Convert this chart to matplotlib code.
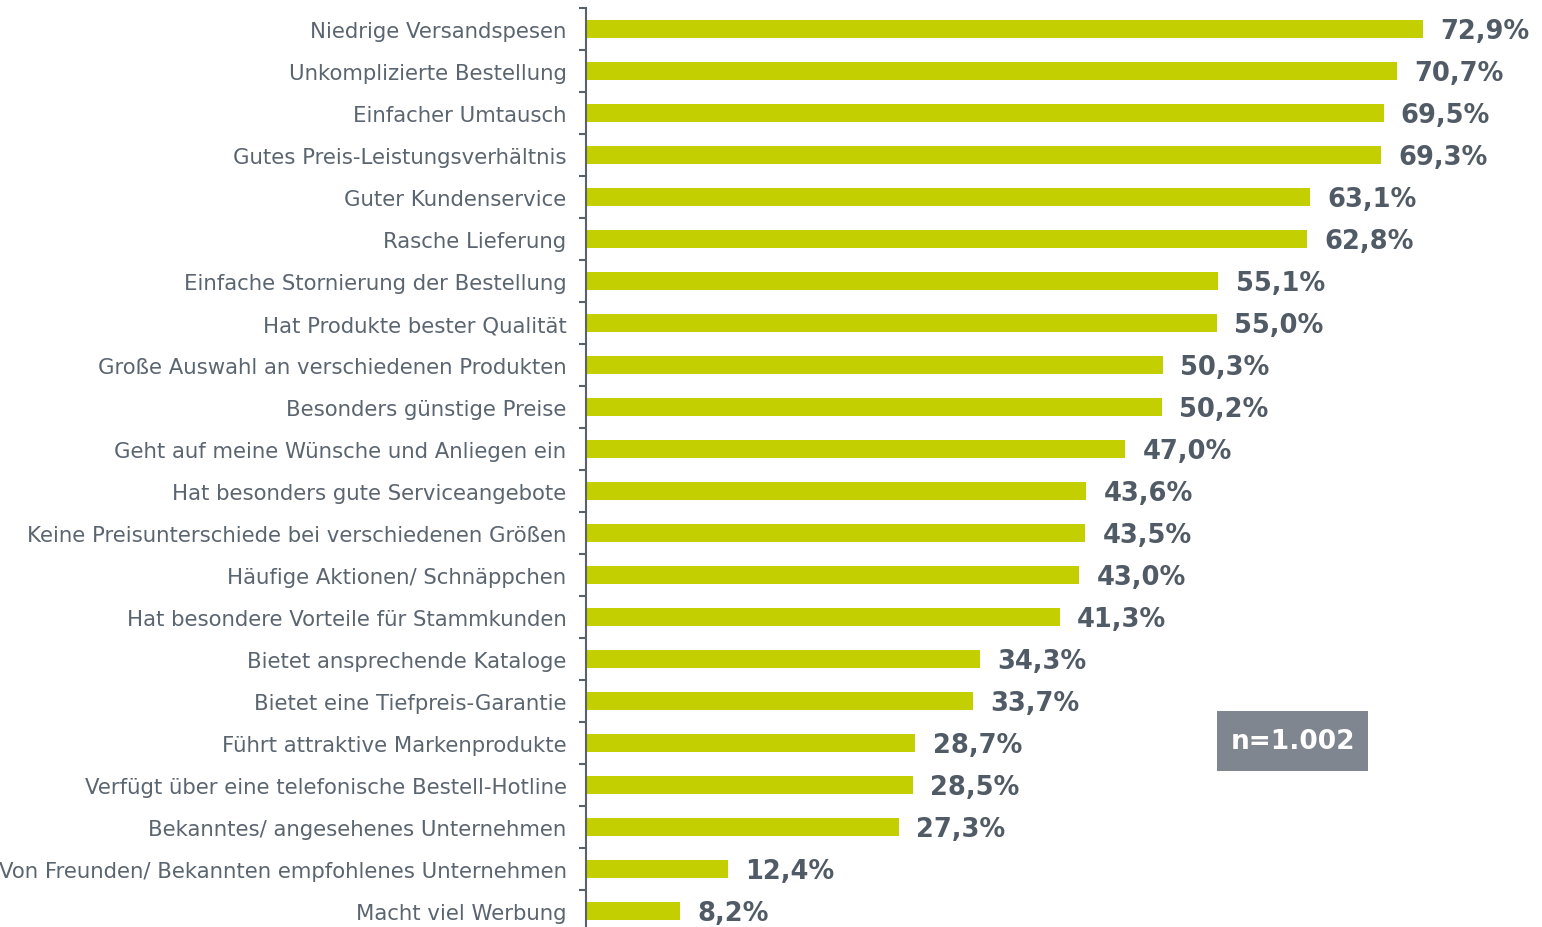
import numpy as np
import matplotlib.pyplot as plt
from matplotlib.patches import Rectangle

# Kriterien und Anteile (%)
categories = [
    "Niedrige Versandspesen",
    "Unkomplizierte Bestellung",
    "Einfacher Umtausch",
    "Gutes Preis-Leistungsverhältnis",
    "Guter Kundenservice",
    "Rasche Lieferung",
    "Einfache Stornierung der Bestellung",
    "Hat Produkte bester Qualität",
    "Große Auswahl an verschiedenen Produkten",
    "Besonders günstige Preise",
    "Geht auf meine Wünsche und Anliegen ein",
    "Hat besonders gute Serviceangebote",
    "Keine Preisunterschiede bei verschiedenen Größen",
    "Häufige Aktionen/ Schnäppchen",
    "Hat besondere Vorteile für Stammkunden",
    "Bietet ansprechende Kataloge",
    "Bietet eine Tiefpreis-Garantie",
    "Führt attraktive Markenprodukte",
    "Verfügt über eine telefonische Bestell-Hotline",
    "Bekanntes/ angesehenes Unternehmen",
    "Von Freunden/ Bekannten empfohlenes Unternehmen",
    "Macht viel Werbung",
]
values = [72.9, 70.7, 69.5, 69.3, 63.1, 62.8, 55.1, 55.0, 50.3, 50.2, 47.0,
          43.6, 43.5, 43.0, 41.3, 34.3, 33.7, 28.7, 28.5, 27.3, 12.4, 8.2]
sample_note = "n=1.002"

bar_color = "#c3cf00"
text_color = "#5b6570"
value_color = "#515b66"

fig = plt.figure(figsize=(15.42, 9.28), dpi=100)
ax = fig.add_axes([0.380, -0.0054, 0.62, 0.9957])

y = np.arange(len(categories))
ax.barh(y, values, height=0.43, color=bar_color, zorder=2)

ax.set_xlim(0, 83.3)
ax.set_ylim(len(categories) - 0.5, -0.5)

for yi, v in zip(y, values):
    ax.text(v + 1.5, yi + 0.04, f"{v:.1f}%".replace(".", ","), va="center", ha="left",
            fontsize=18.5, fontweight="bold", color=value_color, family="DejaVu Sans")

ax.set_yticks(y)
ax.set_yticklabels(categories, fontsize=15.3, color=text_color, family="DejaVu Sans")
ax.tick_params(axis="y", which="major", length=0, pad=14)
ax.set_yticks(np.arange(len(categories) + 1) - 0.5, minor=True)
ax.tick_params(axis="y", which="minor", length=5, width=1.5, color="#59626b", direction="out")
ax.set_xticks([])

for s in ["top", "right", "bottom"]:
    ax.spines[s].set_visible(False)
ax.spines["left"].set_color("#59626b")
ax.spines["left"].set_linewidth(1.5)

# n-Box
fig.add_artist(Rectangle((1217 / 1542, 1 - 772 / 928), 151 / 1542, 60 / 928,
                         transform=fig.transFigure, facecolor="#7f868f", edgecolor="none"))
fig.text(0.8382, 0.2004, sample_note, ha="center", va="center", fontsize=19,
         color="white", fontweight="semibold", family="DejaVu Sans")

fig.savefig("out.png", dpi=100)
